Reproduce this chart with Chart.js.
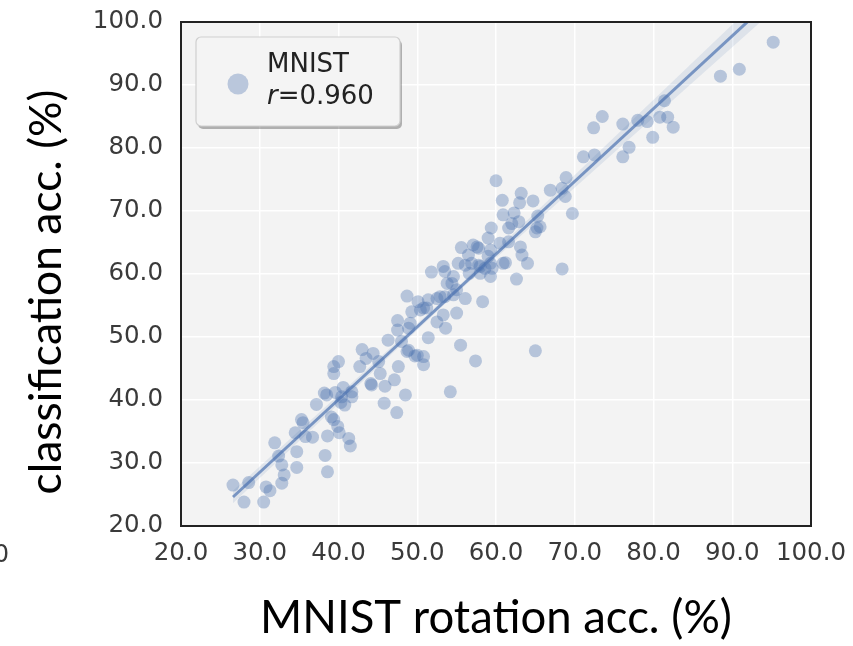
<!DOCTYPE html>
<html>
<head>
<meta charset="utf-8">
<script src="https://cdn.jsdelivr.net/npm/chart.js@4.4.1/dist/chart.umd.min.js"></script>
<style>
  html, body { margin: 0; padding: 0; background: #fff; }
  canvas { display: block; }
</style>
</head>
<body>
<canvas id="accChart" width="853" height="646"></canvas>
<script>
// MNIST rotation accuracy vs classification accuracy (%)
const rotationAcc = [
  26.6, 28.0, 28.6, 30.5, 30.8, 31.3, 31.9, 32.4, 32.8, 33.1,
  32.8, 34.7, 34.7, 34.5, 35.5, 35.8, 36.7, 37.2, 38.2, 38.6,
  38.3, 38.6, 39.1, 39.9, 40.1, 41.3, 41.5, 39.6, 40.6, 41.7,
  40.8, 44.2, 45.9, 45.8, 47.4, 48.5, 35.3, 40.4, 41.7, 39.4,
  40.0, 39.4, 42.7, 45.1, 45.3, 47.6, 44.1, 47.1, 43.0, 44.4,
  43.5, 48.9, 49.7, 50.8, 50.8, 57.4, 54.2, 47.5, 49.1, 52.5,
  53.6, 47.5, 51.4, 46.3, 48.0, 55.5, 49.3, 50.4, 53.3, 55.0,
  48.7, 50.1, 51.4, 52.5, 53.5, 54.6, 56.1, 58.3, 51.2, 38.5,
  40.3, 39.4, 51.8, 53.3, 53.5, 54.6, 56.6, 59.3, 53.8, 55.6,
  57.1, 57.8, 56.5, 59.0, 55.2, 56.1, 56.9, 57.8, 58.6, 59.5,
  60.0, 63.2, 63.0, 64.7, 60.8, 60.9, 62.3, 62.9, 62.0, 65.3,
  65.2, 65.6, 65.0, 61.6, 59.4, 59.0, 60.5, 61.6, 63.1, 63.3,
  64.0, 61.2, 68.4, 62.6, 66.9, 60.9, 95.2, 90.9, 88.5, 81.4,
  80.8, 81.8, 82.5, 79.9, 79.2, 78.0, 76.1, 73.5, 72.4, 76.9,
  76.1, 72.5, 71.1, 68.9, 68.4, 68.8, 69.7, 65.0, 57.6, 59.3,
  59.3, 58.0, 54.4, 55.0, 58.0, 50.8, 48.9, 48.7, 50.0, 52.9
];
const classificationAcc = [
  26.5, 23.8, 26.9, 23.8, 26.2, 25.6, 33.2, 31.1, 29.7, 28.1,
  26.8, 31.8, 29.3, 34.8, 36.4, 34.2, 34.1, 39.3, 41.1, 34.3,
  31.2, 28.6, 37.3, 35.8, 34.8, 33.9, 32.7, 41.2, 42.0, 41.3,
  39.2, 42.4, 42.2, 39.5, 38.0, 40.8, 36.9, 40.5, 40.5, 45.3,
  46.1, 44.2, 45.3, 46.1, 44.2, 45.3, 42.6, 43.2, 48.0, 47.4,
  46.6, 47.9, 47.0, 46.9, 45.6, 46.2, 41.3, 52.6, 52.2, 52.4,
  51.4, 51.1, 49.9, 49.5, 49.3, 48.7, 54.0, 54.3, 53.5, 53.8,
  56.5, 55.6, 55.9, 56.1, 56.4, 56.7, 56.1, 55.6, 54.6, 40.8,
  39.6, 36.9, 60.3, 61.2, 60.4, 59.6, 60.1, 59.6, 58.5, 64.2,
  64.6, 64.1, 63.0, 62.8, 61.7, 61.4, 61.7, 61.4, 60.9, 60.9,
  74.8, 72.8, 71.3, 71.6, 71.7, 69.4, 69.7, 68.3, 68.0, 69.2,
  67.3, 67.5, 66.7, 67.3, 67.3, 65.7, 64.9, 65.1, 64.3, 63.0,
  61.7, 61.8, 60.8, 59.2, 73.3, 61.7, 96.8, 92.5, 91.4, 87.5,
  84.9, 84.9, 83.3, 81.7, 84.2, 84.4, 83.8, 85.0, 83.2, 80.1,
  78.6, 78.9, 78.6, 75.3, 73.6, 72.3, 69.6, 47.8, 64.3, 63.8,
  61.7, 61.2, 58.5, 57.5, 60.1, 54.6, 51.4, 47.7, 47.1, 56.4
];

// regression line and its confidence band
const fitX = [26.6, 95.2];
const fitY = [24.6, 103.8];
const bandX = [26.6, 55.0, 95.2];
const bandUpper = [25.6, 57.8, 105.8];
const bandLower = [23.6, 57.0, 101.8];

const yTicks = [20, 30, 40, 50, 60, 70, 80, 90, 100];
const legendName = 'MNIST';
const legendR = '0.960';
const xTitle = 'MNIST rotation acc. (%)';
const yTitle = 'classification acc. (%)';

const points = rotationAcc.map((x, i) => ({ x: x, y: classificationAcc[i] }));
const fitPoints = fitX.map((x, i) => ({ x: x, y: fitY[i] }));
const upperPoints = bandX.map((x, i) => ({ x: x, y: bandUpper[i] }));
const lowerPoints = bandX.map((x, i) => ({ x: x, y: bandLower[i] }));

const tickFont = { family: 'DejaVu Sans', size: 24.5 };
const tickColor = '#3a3a3a';

function fitFont(ctx, text, family, width) {
  ctx.font = '40px ' + family;
  const w = ctx.measureText(text).width;
  return 40 * width / w;
}

const decorPlugin = {
  id: 'decor',
  beforeDraw(chart) {
    const { ctx, chartArea: a } = chart;
    ctx.save();
    ctx.fillStyle = '#f3f3f3';
    ctx.fillRect(a.left, a.top, a.right - a.left, a.bottom - a.top);
    ctx.restore();
  },
  afterDraw(chart) {
    const { ctx, chartArea: a } = chart;
    ctx.save();
    // frame
    ctx.strokeStyle = '#222';
    ctx.lineWidth = 2;
    ctx.strokeRect(a.left, a.top, a.right - a.left, a.bottom - a.top);

    // legend box with shadow
    const bx = 196, by = 37, bw = 204, bh = 89;
    ctx.fillStyle = 'rgba(0,0,0,0.28)';
    ctx.beginPath();
    ctx.roundRect(bx + 2, by + 3, bw, bh, 5);
    ctx.fill();
    ctx.fillStyle = '#f4f4f4';
    ctx.strokeStyle = '#cfcfcf';
    ctx.lineWidth = 1.2;
    ctx.beginPath();
    ctx.roundRect(bx, by, bw, bh, 5);
    ctx.fill();
    ctx.stroke();
    ctx.fillStyle = 'rgba(76,114,176,0.35)';
    ctx.beginPath();
    ctx.arc(238, 84, 10.5, 0, Math.PI * 2);
    ctx.fill();
    ctx.fillStyle = '#222';
    ctx.textAlign = 'left';
    ctx.textBaseline = 'alphabetic';
    ctx.font = '26px "DejaVu Sans"';
    ctx.fillText(legendName, 267, 72);
    ctx.font = 'italic 26px "DejaVu Sans"';
    ctx.fillText('r', 267, 104);
    const rw = ctx.measureText('r').width;
    ctx.font = '26px "DejaVu Sans"';
    ctx.fillText('=' + legendR, 267 + rw, 104);

    // cut-off label at the left edge
    ctx.fillStyle = tickColor;
    ctx.font = '24.5px "DejaVu Sans"';
    ctx.textAlign = 'right';
    ctx.textBaseline = 'middle';
    ctx.fillText('0', 9, 556);

    // axis titles
    ctx.fillStyle = '#000';
    ctx.textAlign = 'center';
    ctx.textBaseline = 'alphabetic';
    const xs = fitFont(ctx, xTitle, 'Lato', 472);
    ctx.font = xs + 'px Lato';
    ctx.fillText(xTitle, 496, 633);
    const ys = fitFont(ctx, yTitle, 'Lato', 405);
    ctx.font = ys + 'px Lato';
    ctx.translate(61, 292);
    ctx.rotate(-Math.PI / 2);
    ctx.fillText(yTitle, 0, 0);
    ctx.restore();
  }
};

const accChart = new Chart(document.getElementById('accChart').getContext('2d'), {
  type: 'scatter',
  data: {
    datasets: [
      {
        label: legendName,
        data: points,
        backgroundColor: 'rgba(76,114,176,0.36)',
        borderWidth: 0,
        pointRadius: 6.5,
        order: 3
      },
      {
        label: 'upper',
        data: upperPoints,
        showLine: true,
        pointRadius: 0,
        borderWidth: 0,
        borderColor: 'rgba(0,0,0,0)',
        fill: false,
        order: 2
      },
      {
        label: 'lower',
        data: lowerPoints,
        showLine: true,
        pointRadius: 0,
        borderWidth: 0,
        borderColor: 'rgba(0,0,0,0)',
        backgroundColor: 'rgba(76,114,176,0.12)',
        fill: '-1',
        order: 2
      },
      {
        label: 'fit',
        data: fitPoints,
        showLine: true,
        pointRadius: 0,
        borderWidth: 3,
        borderColor: 'rgba(76,114,176,0.7)',
        fill: false,
        order: 1
      }
    ]
  },
  options: {
    responsive: false,
    animation: false,
    layout: { padding: { top: 22, right: 42, left: 0, bottom: 0 } },
    plugins: {
      legend: { display: false },
      tooltip: { enabled: false }
    },
    scales: {
      x: {
        type: 'linear',
        min: 20,
        max: 100,
        afterFit(scale) {
          scale.height = 120;
          scale.paddingLeft = 0;
          scale.paddingRight = 0;
        },
        grid: { color: '#ffffff', lineWidth: 1.5, drawTicks: false },
        border: { display: false },
        ticks: {
          stepSize: 10,
          padding: 13,
          font: tickFont,
          color: tickColor,
          maxRotation: 0,
          callback: v => v.toFixed(1)
        }
      },
      y: {
        type: 'linear',
        min: 20,
        max: 100,
        afterFit(scale) {
          scale.width = 181;
          scale.paddingTop = 0;
          scale.paddingBottom = 0;
        },
        afterBuildTicks(scale) { scale.ticks = yTicks.map(v => ({ value: v })); },
        grid: { color: '#ffffff', lineWidth: 1.5, drawTicks: false },
        border: { display: false },
        ticks: {
          padding: 18,
          font: tickFont,
          color: tickColor,
          callback: v => v.toFixed(1)
        }
      }
    }
  },
  plugins: [decorPlugin]
});
</script>
</body>
</html>
